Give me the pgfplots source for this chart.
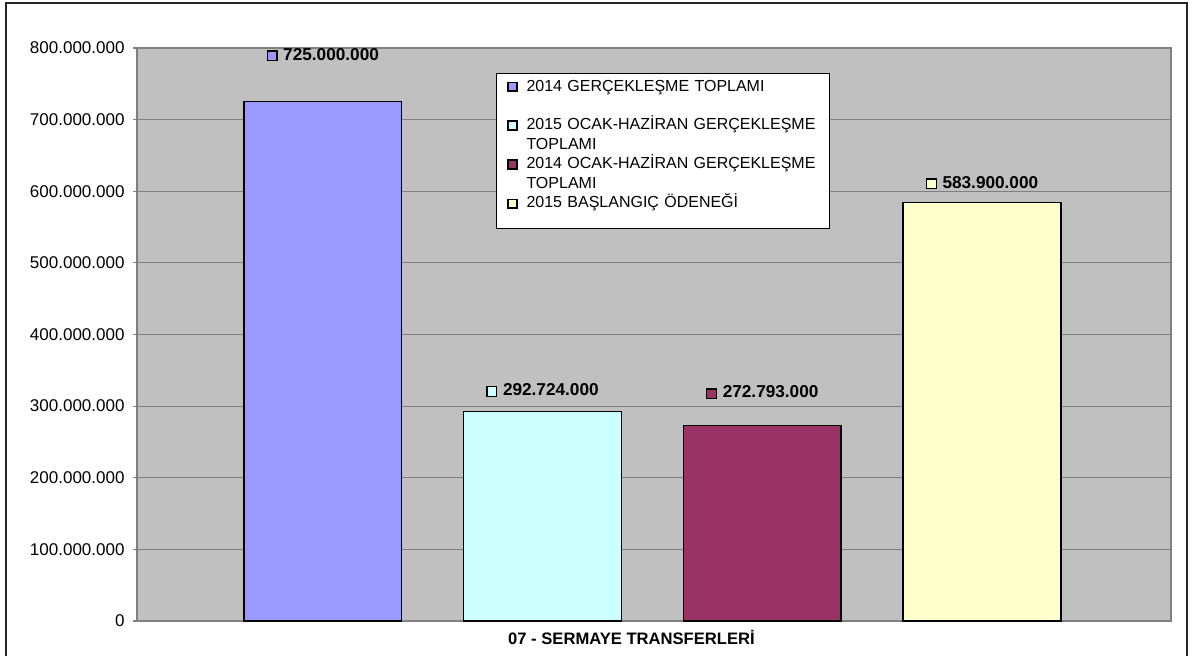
\documentclass[border=0pt]{standalone}
\usepackage{pgfplots}
\pgfplotsset{compat=1.18}
\usepackage{fontspec}
\setmainfont{Liberation Sans}
\definecolor{c1}{HTML}{9999FF}
\definecolor{c2}{HTML}{CCFFFF}
\definecolor{c3}{HTML}{993366}
\definecolor{c4}{HTML}{FFFFCC}
\definecolor{plotbg}{HTML}{C0C0C0}
\definecolor{gridc}{HTML}{808080}
\newcommand{\keybox}[1]{{\setlength{\fboxsep}{0pt}\setlength{\fboxrule}{0.65pt}\raisebox{0pt}{\fcolorbox{black}{#1}{\rule{0pt}{4.2pt}\hspace{4.2pt}}}}}
\pgfplotsset{/pgf/number format/.cd, 1000 sep={.}, fixed, precision=0, assume math mode=true}
\begin{document}
\begin{tikzpicture}
\useasboundingbox (0,0) rectangle (599pt,-327.5pt);
\draw[line width=0.9pt, black!85] (3pt,-340pt) |- (593.5pt,-1.5pt) -- (593.5pt,-340pt);
\begin{axis}[
  at={(68.5pt,-310.5pt)}, anchor=south west,
  scale only axis, width=517pt, height=286.5pt,
  xmin=-0.845, xmax=3.86, ymin=0, ymax=800000000,
  axis background/.style={fill=plotbg},
  axis line style={gridc, line width=0.6pt},
  ytick={0,100000000,200000000,300000000,400000000,500000000,600000000,700000000,800000000},
  scaled y ticks=false,
  ytick pos=left, tick align=outside, major tick length=2.2pt,
  y tick style={gridc, line width=0.6pt},
  yticklabel style={font=\fontsize{8.5}{10}\selectfont, xshift=-0.5pt},
  ymajorgrids, grid style={gridc, line width=0.5pt},
  xtick={1.405}, xticklabels={{\textbf{07 - SERMAYE TRANSFERLERİ}}},
  x tick style={draw=none},
  xticklabel style={font=\fontsize{8.3}{10}\selectfont, yshift=1pt},
  ybar, bar width=0.718, bar shift=0pt,
  every axis plot/.append style={draw=black, line width=0.7pt},
  legend image code/.code={\draw[#1, draw=black, line width=0.65pt] (0pt,0pt) rectangle (4.4pt,4.4pt);},
  legend style={at={(0.347,0.956)}, anchor=north west, draw=black, line width=0.6pt, fill=white,
    font=\fontsize{8}{9.6}\selectfont, inner xsep=5.5pt, inner ysep=3pt, row sep=2.9pt, column sep=4.5pt,
    nodes={inner sep=0pt, text depth=},
    cells={anchor=base west, align=left, text width=146pt}},
]
\addplot[fill=c1, nodes near coords={\keybox{c1}\,\,\textbf{\pgfmathprintnumber{\pgfplotspointmeta}}},
  nodes near coords style={anchor=center, yshift=23.5pt, font=\fontsize{8.6}{10}\selectfont}]
  coordinates {(0,725000000)};
\addplot[fill=c2, nodes near coords={\keybox{c2}\,\,\textbf{\pgfmathprintnumber{\pgfplotspointmeta}}},
  nodes near coords style={anchor=center, yshift=10.5pt, font=\fontsize{8.6}{10}\selectfont}]
  coordinates {(1,292724000)};
\addplot[fill=c3, nodes near coords={\keybox{c3}\,\,\textbf{\pgfmathprintnumber{\pgfplotspointmeta}}},
  nodes near coords style={anchor=center, yshift=16.5pt, font=\fontsize{8.6}{10}\selectfont}]
  coordinates {(2,272793000)};
\addplot[fill=c4, nodes near coords={\keybox{c4}\,\,\textbf{\pgfmathprintnumber{\pgfplotspointmeta}}},
  nodes near coords style={anchor=center, yshift=10pt, font=\fontsize{8.6}{10}\selectfont}]
  coordinates {(3,583900000)};
\legend{{2014 GERÇEKLEŞME TOPLAMI\\\mbox{}},
        {2015 OCAK-HAZİRAN GERÇEKLEŞME\\TOPLAMI},
        {2014 OCAK-HAZİRAN GERÇEKLEŞME\\TOPLAMI},
        {2015 BAŞLANGIÇ ÖDENEĞİ\\[-2.5pt]\mbox{}}}
\end{axis}
\end{tikzpicture}
\end{document}
